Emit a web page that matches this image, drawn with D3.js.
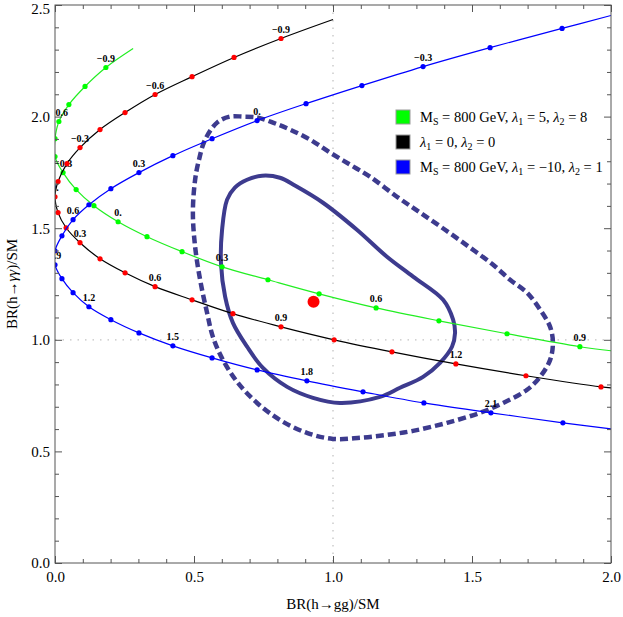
<!DOCTYPE html>
<html>
<head>
<meta charset="utf-8">
<script src="https://cdnjs.cloudflare.com/ajax/libs/d3/7.8.5/d3.min.js"></script>
<style>
  body { margin: 0; background: #fff; }
  text { font-family: "Liberation Serif", "Times New Roman", serif; }
</style>
</head>
<body>
<div id="chart"></div>
<script>
//--------DATA-------------

// frame ticks
var xMajor = [0, 0.5, 1.0, 1.5, 2.0];
var xMinor = [0.1, 0.2, 0.3, 0.4, 0.6, 0.7, 0.8, 0.9, 1.1, 1.2, 1.3, 1.4, 1.6, 1.7, 1.8, 1.9];
var yMajor = [0, 0.5, 1.0, 1.5, 2.0, 2.5];
var yMinor = [0.1, 0.2, 0.3, 0.4, 0.6, 0.7, 0.8, 0.9, 1.1, 1.2, 1.3, 1.4, 1.6, 1.7, 1.8, 1.9, 2.1, 2.2, 2.3, 2.4];

// green curve: MS = 800 GeV, l1 = 5, l2 = 8
var greenParams = [-0.9, -0.8, -0.7, -0.6, -0.5, -0.4, -0.3, -0.2, -0.1, 0, 0.1, 0.2, 0.3, 0.4, 0.5, 0.6, 0.7, 0.8, 0.9];
var greenX = [0.183, 0.108, 0.050, 0.014, 0.000, 0.000, 0.029, 0.076, 0.140, 0.227, 0.331, 0.457, 0.601, 0.766, 0.950, 1.155, 1.381, 1.626, 1.888];
var greenY = [2.220, 2.135, 2.054, 1.978, 1.901, 1.821, 1.749, 1.673, 1.601, 1.529, 1.462, 1.395, 1.327, 1.269, 1.206, 1.143, 1.085, 1.027, 0.969];
var greenEnds = [[0.281, 2.305], [2.0, 0.951]];
var greenLabels = [-0.9, -0.6, -0.3, 0, 0.3, 0.6, 0.9];

// black curve: l1 = 0, l2 = 0
var blackParams = [-0.9, -0.8, -0.7, -0.6, -0.5, -0.4, -0.3, -0.2, -0.1, 0, 0.1, 0.2, 0.3, 0.4, 0.5, 0.6, 0.7, 0.8, 0.9, 1.0, 1.1, 1.2, 1.3, 1.4];
var blackX = [0.813, 0.644, 0.493, 0.360, 0.252, 0.162, 0.090, 0.043, 0.011, 0.000, 0.011, 0.040, 0.090, 0.162, 0.252, 0.360, 0.493, 0.640, 0.813, 1.004, 1.212, 1.442, 1.694, 1.964];
var blackY = [2.350, 2.265, 2.179, 2.099, 2.018, 1.942, 1.861, 1.789, 1.709, 1.641, 1.570, 1.502, 1.435, 1.363, 1.300, 1.238, 1.179, 1.117, 1.058, 1.000, 0.946, 0.892, 0.839, 0.789];
var blackEnds = [[1.0, 2.435], [2.0, 0.785]];
var blackLabels = [-0.9, -0.6, -0.3, 0, 0.3, 0.6, 0.9, 1.2];

// blue curve: MS = 800 GeV, l1 = -10, l2 = 1
var blueParams = [-0.5, -0.4, -0.3, -0.2, -0.1, 0, 0.1, 0.2, 0.3, 0.4, 0.5, 0.6, 0.7, 0.8, 0.9, 1.0, 1.1, 1.2, 1.3, 1.4, 1.5, 1.6, 1.7, 1.8, 1.9, 2.0, 2.1, 2.2];
var blueX = [1.824, 1.565, 1.324, 1.104, 0.903, 0.727, 0.565, 0.424, 0.302, 0.201, 0.122, 0.065, 0.025, 0.000, 0.000, 0.025, 0.065, 0.122, 0.201, 0.302, 0.424, 0.565, 0.727, 0.906, 1.108, 1.327, 1.568, 1.827];
var blueY = [2.395, 2.309, 2.224, 2.139, 2.058, 1.982, 1.901, 1.825, 1.749, 1.677, 1.605, 1.538, 1.466, 1.399, 1.336, 1.274, 1.211, 1.148, 1.090, 1.031, 0.973, 0.919, 0.865, 0.816, 0.767, 0.717, 0.673, 0.628];
var blueEnds = [[2.0, 2.453], [2.0, 0.601]];
var blueLabels = [-0.3, 0, 0.3, 0.6, 0.9, 1.2, 1.5, 1.8, 2.1];

// fit contours
var solidX = [0.745, 0.809, 0.863, 0.964, 1.086, 1.194, 1.288, 1.396, 1.432, 1.439, 1.428, 1.385, 1.324, 1.241, 1.169, 1.025, 0.928, 0.835, 0.748, 0.691, 0.640, 0.612, 0.597, 0.601, 0.619, 0.647, 0.691];
var solidY = [1.735, 1.726, 1.691, 1.614, 1.493, 1.372, 1.283, 1.179, 1.090, 1.031, 0.969, 0.897, 0.834, 0.785, 0.744, 0.717, 0.740, 0.789, 0.874, 0.969, 1.076, 1.193, 1.345, 1.493, 1.628, 1.682, 1.717];
var dashedX = [0.676, 0.727, 0.784, 0.845, 0.917, 0.989, 1.061, 1.133, 1.230, 1.313, 1.403, 1.493, 1.576, 1.637, 1.698, 1.745, 1.781, 1.791, 1.781, 1.745, 1.698, 1.612, 1.529, 1.410, 1.288, 1.194, 1.097, 1.000, 0.906, 0.809, 0.727, 0.658, 0.604, 0.568, 0.547, 0.522, 0.504, 0.496, 0.504, 0.518, 0.540, 0.583, 0.629];
var dashedY = [2.000, 1.996, 1.973, 1.942, 1.897, 1.839, 1.785, 1.731, 1.641, 1.570, 1.493, 1.413, 1.336, 1.269, 1.211, 1.135, 1.058, 0.987, 0.910, 0.834, 0.776, 0.717, 0.673, 0.628, 0.592, 0.574, 0.561, 0.556, 0.583, 0.641, 0.717, 0.807, 0.910, 1.013, 1.121, 1.269, 1.417, 1.570, 1.717, 1.807, 1.897, 1.973, 2.000];

// best fit point
var bestFit = [0.93, 1.17];

//--------CHART-------------

var svgWidth = 623;
var svgHeight = 617;
var margin = { top: 5, right: 12, bottom: 54, left: 55 };
var plotWidth = svgWidth - margin.left - margin.right;
var plotHeight = svgHeight - margin.top - margin.bottom;

var svg = d3.select("#chart")
  .append("svg")
  .attr("width", svgWidth)
  .attr("height", svgHeight);

var chartGroup = svg.append("g")
  .attr("transform", `translate(${margin.left}, ${margin.top})`);

var xScale = d3.scaleLinear().domain([0, 2]).range([0, plotWidth]);
var yScale = d3.scaleLinear().domain([0, 2.5]).range([plotHeight, 0]);

chartGroup.append("clipPath")
  .attr("id", "plotclip")
  .append("rect")
  .attr("width", plotWidth)
  .attr("height", plotHeight);

// dotted grid lines at SM value
var gridGroup = chartGroup.append("g").attr("clip-path", "url(#plotclip)");
gridGroup.append("line")
  .attr("x1", xScale(1)).attr("x2", xScale(1))
  .attr("y1", 0).attr("y2", plotHeight)
  .attr("stroke", "#c4c4c4").attr("stroke-width", 1.3)
  .attr("stroke-dasharray", "1.5,6");
gridGroup.append("line")
  .attr("x1", 0).attr("x2", plotWidth)
  .attr("y1", yScale(1)).attr("y2", yScale(1))
  .attr("stroke", "#c4c4c4").attr("stroke-width", 1.3)
  .attr("stroke-dasharray", "1.5,6");

var plotGroup = chartGroup.append("g").attr("clip-path", "url(#plotclip)");

// contours
var contourLine = d3.line()
  .x(d => xScale(d[0]))
  .y(d => yScale(d[1]))
  .curve(d3.curveCatmullRomClosed.alpha(0.5));

plotGroup.append("path")
  .datum(dashedX.map((v, i) => [v, dashedY[i]]))
  .attr("d", contourLine)
  .attr("fill", "none")
  .attr("stroke", "#3d3b8e")
  .attr("stroke-width", 4.5)
  .attr("stroke-dasharray", "8,4");

plotGroup.append("path")
  .datum(solidX.map((v, i) => [v, solidY[i]]))
  .attr("d", contourLine)
  .attr("fill", "none")
  .attr("stroke", "#3d3b8e")
  .attr("stroke-width", 4);

// parametric curves
var series = [
  { params: greenParams, xs: greenX, ys: greenY, ends: greenEnds, labels: greenLabels, line: "#22ee22", dot: "#00ff00" },
  { params: blackParams, xs: blackX, ys: blackY, ends: blackEnds, labels: blackLabels, line: "#000000", dot: "#ff0000" },
  { params: blueParams, xs: blueX, ys: blueY, ends: blueEnds, labels: blueLabels, line: "#0000ff", dot: "#0000ff" }
];

var curveLine = d3.line()
  .x(d => xScale(d[0]))
  .y(d => yScale(d[1]))
  .curve(d3.curveCatmullRom.alpha(0.5));

function fmtParam(p) {
  if (p === 0) return "0.";
  return (p < 0 ? "\u2212" : "") + Math.abs(p).toFixed(1);
}

series.forEach(function(s) {
  var pts = s.xs.map((v, i) => [v, s.ys[i]]);
  var linePts = [s.ends[0]].concat(pts, [s.ends[1]]);

  plotGroup.append("path")
    .datum(linePts)
    .attr("d", curveLine)
    .attr("fill", "none")
    .attr("stroke", s.line)
    .attr("stroke-width", 1.2);

  plotGroup.selectAll(null)
    .data(pts)
    .enter()
    .append("circle")
    .attr("cx", d => xScale(d[0]))
    .attr("cy", d => yScale(d[1]))
    .attr("r", 2.6)
    .attr("fill", s.dot);

  var labelled = s.labels.map(p => {
    var i = s.params.findIndex(q => Math.abs(q - p) < 1e-9);
    return { p: p, x: s.xs[i], y: s.ys[i] };
  });

  plotGroup.selectAll(null)
    .data(labelled)
    .enter()
    .append("text")
    .attr("x", d => xScale(d.x))
    .attr("y", d => yScale(d.y) - 5.5)
    .attr("text-anchor", "middle")
    .attr("font-size", "10px")
    .attr("font-weight", "bold")
    .text(d => fmtParam(d.p));
});

// best fit point
plotGroup.append("circle")
  .attr("cx", xScale(bestFit[0]))
  .attr("cy", yScale(bestFit[1]))
  .attr("r", 6)
  .attr("fill", "#ff0000");

// frame and ticks
var frameColor = "#555";

function styleAxis(g) {
  g.select(".domain").remove();
  g.selectAll("line").attr("stroke", frameColor);
  g.selectAll("text").attr("font-size", "15px").attr("fill", "#000")
    .style("font-family", "'Liberation Serif', 'Times New Roman', serif");
}

chartGroup.append("g")
  .attr("transform", `translate(0, ${plotHeight})`)
  .call(d3.axisBottom(xScale).tickValues(xMajor).tickSize(-7).tickPadding(8).tickFormat(d3.format(".1f")))
  .call(styleAxis);
chartGroup.append("g")
  .attr("transform", `translate(0, ${plotHeight})`)
  .call(d3.axisBottom(xScale).tickValues(xMinor).tickSize(-4).tickFormat(""))
  .call(styleAxis);
chartGroup.append("g")
  .call(d3.axisTop(xScale).tickValues(xMajor).tickSize(-7).tickFormat(""))
  .call(styleAxis);
chartGroup.append("g")
  .call(d3.axisTop(xScale).tickValues(xMinor).tickSize(-4).tickFormat(""))
  .call(styleAxis);

var yAxisG = chartGroup.append("g")
  .call(d3.axisLeft(yScale).tickValues(yMajor).tickSize(-7).tickPadding(5).tickFormat(d3.format(".1f")))
  .call(styleAxis);
// keep the top label inside the picture
yAxisG.selectAll(".tick text").filter(d => d === 2.5).attr("dy", "0.55em");

chartGroup.append("g")
  .call(d3.axisLeft(yScale).tickValues(yMinor).tickSize(-4).tickFormat(""))
  .call(styleAxis);
chartGroup.append("g")
  .attr("transform", `translate(${plotWidth}, 0)`)
  .call(d3.axisRight(yScale).tickValues(yMajor).tickSize(-7).tickFormat(""))
  .call(styleAxis);
chartGroup.append("g")
  .attr("transform", `translate(${plotWidth}, 0)`)
  .call(d3.axisRight(yScale).tickValues(yMinor).tickSize(-4).tickFormat(""))
  .call(styleAxis);

chartGroup.append("rect")
  .attr("width", plotWidth)
  .attr("height", plotHeight)
  .attr("fill", "none")
  .attr("stroke", frameColor)
  .attr("stroke-width", 1);

// axis titles
chartGroup.append("text")
  .attr("x", plotWidth / 2)
  .attr("y", plotHeight + 46)
  .attr("text-anchor", "middle")
  .attr("font-size", "15px")
  .text("BR(h\u2192gg)/SM");

var yTitle = chartGroup.append("text")
  .attr("transform", `translate(${-38}, ${plotHeight / 2}) rotate(-90)`)
  .attr("text-anchor", "middle")
  .attr("font-size", "15px");
yTitle.append("tspan").text("BR(h\u2192");
yTitle.append("tspan").attr("font-style", "italic").text("\u03b3\u03b3");
yTitle.append("tspan").text(")/SM");

// legend
var legendItems = [
  { color: "#00ff00", parts: [["M"], ["S", "sub"], [" = 800 GeV, "], ["\u03bb", "it"], ["1", "sub"], [" = 5, "], ["\u03bb", "it"], ["2", "sub"], [" = 8"]] },
  { color: "#000000", parts: [["\u03bb", "it"], ["1", "sub"], [" = 0, "], ["\u03bb", "it"], ["2", "sub"], [" = 0"]] },
  { color: "#0000ff", parts: [["M"], ["S", "sub"], [" = 800 GeV, "], ["\u03bb", "it"], ["1", "sub"], [" = \u221210, "], ["\u03bb", "it"], ["2", "sub"], [" = 1"]] }
];

var legendGroup = svg.append("g").attr("transform", "translate(396, 110)");
legendItems.forEach(function(item, i) {
  var row = legendGroup.append("g").attr("transform", `translate(0, ${i * 25})`);
  row.append("rect")
    .attr("width", 14).attr("height", 14)
    .attr("fill", item.color)
    .attr("stroke", "#999").attr("stroke-width", 1);
  var t = row.append("text")
    .attr("x", 24).attr("y", 12)
    .attr("font-size", "14.5px");
  var sub = false;
  item.parts.forEach(function(p) {
    var ts = t.append("tspan").text(p[0]);
    if (p[1] === "sub") {
      ts.attr("font-size", "10px").attr("dy", sub ? 0 : 3);
      sub = true;
    } else {
      if (sub) ts.attr("dy", -3);
      sub = false;
      if (p[1] === "it") ts.attr("font-style", "italic");
    }
  });
});
</script>
</body>
</html>
